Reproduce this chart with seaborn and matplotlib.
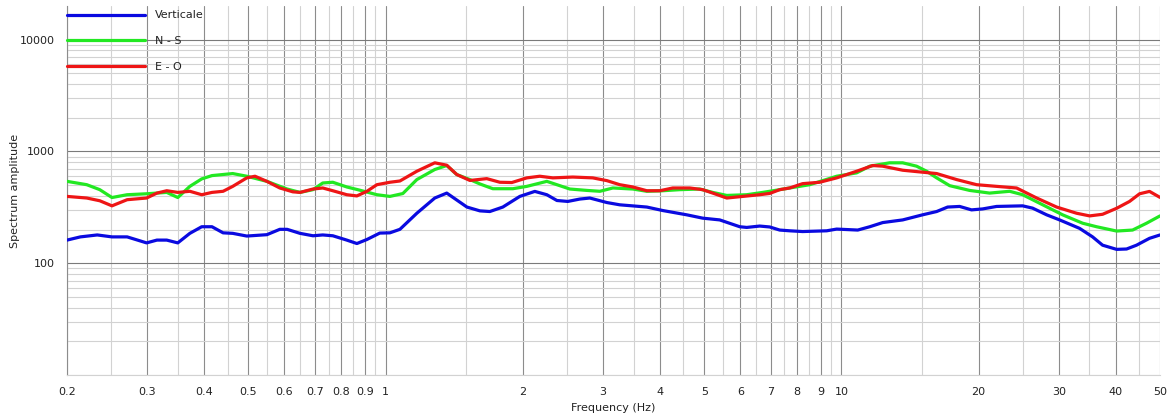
import pandas as pd
import seaborn as sns
import matplotlib.pyplot as plt
from matplotlib.ticker import NullFormatter

# Spectrum amplitude per component
freq_v = [0.200, 0.214, 0.233, 0.251, 0.271, 0.299, 0.315, 0.331, 0.350, 0.372,
          0.395, 0.416, 0.440, 0.462, 0.496, 0.549, 0.586, 0.608, 0.649, 0.693,
          0.728, 0.766, 0.822, 0.865, 0.910, 0.971, 1.022, 1.075, 1.171, 1.282,
          1.362, 1.508, 1.610, 1.693, 1.808, 1.970, 2.125, 2.258, 2.376, 2.510,
          2.668, 2.806, 3.058, 3.264, 3.742, 4.056, 4.578, 4.962, 5.408, 5.984,
          6.198, 6.618, 6.962, 7.322, 7.70, 8.222, 9.284, 9.764, 10.86, 11.54,
          12.32, 13.63, 15.07, 16.18, 17.10, 18.17, 19.30, 20.41, 21.90, 24.98,
          26.27, 28.20, 30.11, 33.31, 35.57, 37.41, 40.16, 42.23, 44.41, 47.42, 50.0]
amp_v = [161, 172, 179, 172, 172, 152, 161, 161, 152, 185,
         212, 212, 187, 185, 175, 180, 201, 201, 185, 176,
         179, 176, 161, 150, 163, 186, 187, 201, 280, 383,
         424, 318, 294, 290, 318, 396, 439, 410, 364, 357,
         375, 383, 349, 333, 318, 296, 271, 253, 244, 212,
         209, 215, 211, 198, 195, 192, 195, 202, 198, 212,
         231, 244, 271, 290, 318, 322, 300, 306, 322, 326,
         311, 271, 244, 205, 172, 145, 133, 134, 145, 167, 179]

freq_ns = [0.200, 0.221, 0.236, 0.251, 0.271, 0.299, 0.331, 0.350, 0.372, 0.395,
           0.416, 0.462, 0.496, 0.549, 0.608, 0.649, 0.693, 0.728, 0.766, 0.822,
           0.878, 0.957, 1.022, 1.091, 1.171, 1.282, 1.362, 1.433, 1.531, 1.610,
           1.719, 1.902, 2.041, 2.258, 2.376, 2.536, 2.764, 2.952, 3.152, 3.486,
           3.742, 4.056, 4.420, 4.888, 5.220, 5.604, 6.198, 6.720, 7.322, 7.70,
           8.52, 9.764, 10.80, 11.54, 12.76, 13.63, 14.62, 15.38, 16.18, 17.28,
           19.11, 21.14, 23.39, 24.98, 27.65, 30.57, 33.82, 36.29, 40.16, 43.53,
           46.72, 50.0]
amp_ns = [540, 504, 455, 387, 410, 418, 430, 387, 487, 568,
          608, 634, 600, 540, 461, 430, 455, 522, 530, 481,
          450, 410, 396, 420, 560, 689, 748, 621, 560, 512,
          464, 464, 487, 540, 504, 461, 448, 440, 471, 461,
          440, 445, 455, 461, 430, 404, 410, 430, 455, 471,
          504, 600, 643, 738, 791, 791, 738, 665, 580, 494,
          448, 424, 440, 410, 333, 271, 228, 212, 194, 198,
          228, 265]

freq_eo = [0.200, 0.221, 0.236, 0.251, 0.271, 0.299, 0.315, 0.331, 0.350, 0.372,
           0.395, 0.416, 0.440, 0.462, 0.496, 0.517, 0.549, 0.586, 0.626, 0.649,
           0.693, 0.728, 0.766, 0.822, 0.865, 0.910, 0.957, 1.022, 1.075, 1.171,
           1.282, 1.362, 1.433, 1.531, 1.667, 1.781, 1.892, 2.041, 2.179, 2.328,
           2.574, 2.848, 3.058, 3.264, 3.486, 3.742, 3.994, 4.266, 4.648, 4.962,
           5.220, 5.604, 6.076, 6.618, 6.962, 7.322, 7.70, 8.222, 8.96, 9.764,
           10.80, 11.71, 12.32, 13.63, 14.62, 16.18, 17.90, 19.80, 21.90, 24.23,
           26.82, 29.66, 32.80, 35.04, 37.41, 40.16, 42.87, 45.10, 47.42, 50.0]
amp_eo = [396, 383, 362, 326, 370, 383, 424, 445, 430, 440,
          410, 430, 440, 487, 580, 600, 540, 471, 435, 430,
          461, 471, 445, 410, 400, 440, 504, 530, 544, 665,
          791, 753, 621, 550, 571, 530, 527, 580, 600, 580,
          590, 580, 548, 504, 481, 445, 445, 471, 471, 455,
          424, 383, 396, 410, 421, 455, 471, 515, 530, 580,
          665, 748, 738, 679, 660, 634, 560, 504, 487, 471,
          383, 318, 280, 265, 274, 310, 357, 418, 439, 388]

series_names = ['Verticale', 'N - S', 'E - O']
series_colors = ['#0a0ae0', '#22e822', '#ee1515']

x_major = [0.2, 0.3, 0.4, 0.5, 0.6, 0.7, 0.8, 0.9, 1, 2, 3, 4, 5, 6, 7, 8, 9, 10, 20, 30, 40, 50]
x_major_labels = ['0.2', '0.3', '0.4', '0.5', '0.6', '0.7', '0.8', '0.9', '1', '2', '3', '4',
                  '5', '6', '7', '8', '9', '10', '20', '30', '40', '50']
x_minor = [0.25, 0.35, 0.45, 0.55, 0.65, 0.75, 0.85, 0.95, 1.5, 2.5, 3.5, 4.5, 5.5, 6.5,
           7.5, 8.5, 9.5, 15, 25, 35, 45]
y_major = [100, 1000, 10000]
y_major_labels = ['100', '1000', '10000']
y_minor = [10, 20, 30, 40, 50, 60, 70, 80, 90, 200, 300, 400, 500, 600, 700, 800, 900,
           2000, 3000, 4000, 5000, 6000, 7000, 8000, 9000]

# long-form table for seaborn
spectra = pd.concat([
    pd.DataFrame({'freq': freq_v, 'amp': amp_v, 'comp': series_names[0]}),
    pd.DataFrame({'freq': freq_ns, 'amp': amp_ns, 'comp': series_names[1]}),
    pd.DataFrame({'freq': freq_eo, 'amp': amp_eo, 'comp': series_names[2]}),
], ignore_index=True)

sns.set_style('white')
plt.rcParams['font.family'] = ['DejaVu Sans']

fig, ax = plt.subplots(figsize=(11.7, 4.18), dpi=100)
fig.subplots_adjust(left=67/1170, right=1160/1170, bottom=43/418, top=412/418)

sns.lineplot(data=spectra, x='freq', y='amp', hue='comp', hue_order=series_names,
             palette=series_colors, lw=2.3, ax=ax, estimator=None, sort=False, zorder=3)

ax.set_xscale('log')
ax.set_yscale('log')
ax.set_xlim(0.2, 50)
ax.set_ylim(10, 20000)

ax.set_xticks(x_major, x_major_labels)
ax.set_xticks(x_minor, minor=True)
ax.set_yticks(y_major, y_major_labels)
ax.set_yticks(y_minor, minor=True)
ax.xaxis.set_minor_formatter(NullFormatter())
ax.yaxis.set_minor_formatter(NullFormatter())

# grid: dark for labelled values, light for the rest
ax.set_axisbelow(True)
ax.grid(which='major', axis='x', color='#8c8c8c', lw=0.8)
ax.grid(which='minor', axis='x', color='#d2d2d2', lw=0.8)
ax.grid(which='major', axis='y', color='#7a7a7a', lw=0.8)
ax.grid(which='minor', axis='y', color='#d2d2d2', lw=0.8)

for side in ['top', 'right']:
    ax.spines[side].set_visible(False)
ax.spines['left'].set_color('#8c8c8c')
ax.spines['left'].set_linewidth(0.8)
ax.spines['bottom'].set_color('#d2d2d2')
ax.spines['bottom'].set_linewidth(0.8)

ax.tick_params(axis='x', which='both', length=4.3, width=0.8, color='#8c8c8c',
               labelsize=8, labelcolor='#222222', pad=4)
ax.tick_params(axis='y', which='major', length=7, width=0.8, color='#7a7a7a',
               labelsize=8, labelcolor='#222222', pad=1.5)
ax.tick_params(axis='y', which='minor', length=3.5, width=0.8, color='#8c8c8c')

ax.set_xlabel('Frequency (Hz)', fontsize=8, color='#222222', labelpad=4.5)
ax.set_ylabel('Spectrum amplitude', fontsize=8, color='#222222', labelpad=0)

ax.legend(loc='upper left', bbox_to_anchor=(0, 0.988), frameon=False, fontsize=8,
          handlelength=7, handletextpad=0.9, labelspacing=1.4, borderpad=0,
          borderaxespad=0, labelcolor='#222222')

plt.savefig('out.png', dpi=100, facecolor='white')
